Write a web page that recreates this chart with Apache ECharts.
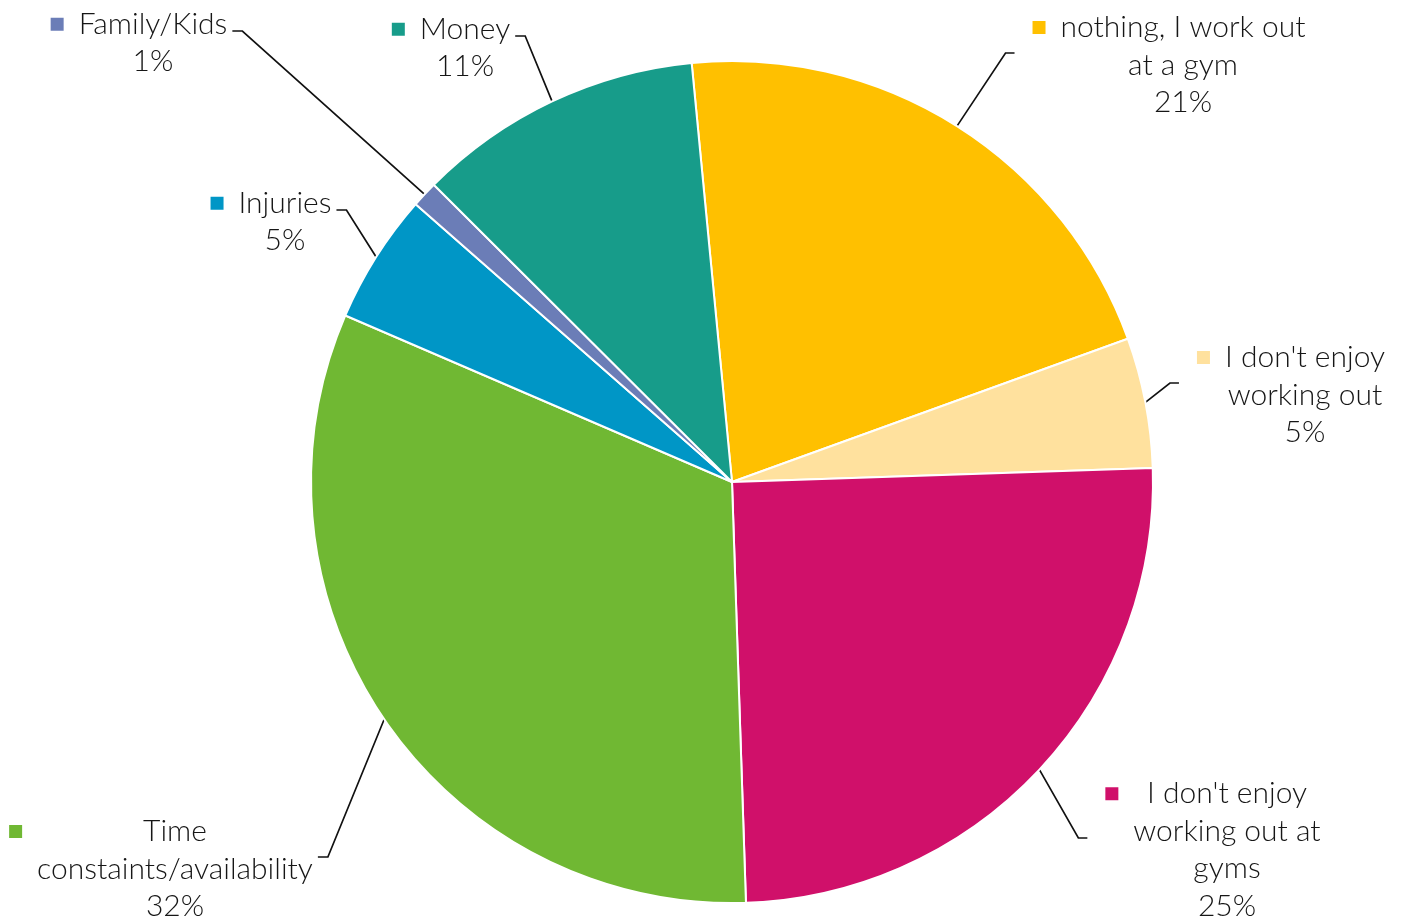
<!DOCTYPE html>
<html>
<head>
<meta charset="utf-8">
<script src="https://cdn.jsdelivr.net/npm/echarts@6/dist/echarts.min.js"></script>
<style>
  html, body { margin: 0; padding: 0; background: #fff; }
  #chart { width: 1413px; height: 921px; }
</style>
</head>
<body>
<div id="chart"></div>
<script>
// Reasons for not working out at a gym (share of responses, %), clockwise from the top
const categories = [
  'nothing, I work out\nat a gym',
  "I don't enjoy\nworking out",
  "I don't enjoy\nworking out at\ngyms",
  'Time\nconstaints/availability',
  'Injuries',
  'Family/Kids',
  'Money'
];
const shares = [21, 5, 25, 32, 5, 1, 11];
const colors = ['#FFC000', '#FFE19E', '#D0106A', '#70B833', '#0096C6', '#6B7DB7', '#179C8A'];
// centre of each label box, in px
const labelAnchors = [[1169, 65], [1291, 395], [1213, 850], [161, 869], [271, 222], [139, 43], [451, 48]];

const FONT = 'Lato';
const FONT_SIZE = 30;
const LINE_H = 37.5;
const TEXT_COLOR = '#161616';

const rich = {
  t: { fontFamily: FONT, fontSize: FONT_SIZE, fontWeight: 300, lineHeight: LINE_H, color: TEXT_COLOR, align: 'center' },
  gap: { width: 15, height: 13, align: 'left' },
  pad: { width: 28, height: 13, align: 'left' }
};
colors.forEach(function (c, i) {
  rich['k' + i] = { width: 13, height: 13, backgroundColor: c, align: 'left' };
});

function labelText(params) {
  const lines = categories[params.dataIndex].split('\n').concat([params.value + '%']);
  return lines.map(function (s, j) {
    return (j === 0 ? '{k' + params.dataIndex + '|}{gap|}' : '{pad|}') + '{t|' + s + '}';
  }).join('\n');
}

const chart = echarts.init(document.getElementById('chart'), null, { renderer: 'canvas' });
chart.setOption({
  backgroundColor: '#ffffff',
  animation: false,
  color: colors,
  series: [{
    type: 'pie',
    center: [732, 482],
    radius: 421,
    startAngle: 95.5,
    clockwise: true,
    avoidLabelOverlap: false,
    emphasis: { disabled: true },
    itemStyle: { borderColor: '#ffffff', borderWidth: 2 },
    label: {
      show: true,
      position: 'outside',
      formatter: labelText,
      rich: rich
    },
    labelLine: {
      show: true,
      smooth: false,
      length: 20,
      length2: 10,
      lineStyle: { color: '#111', width: 1.7 }
    },
    labelLayout: function (params) {
      const i = params.dataIndex;
      const x = labelAnchors[i][0], y = labelAnchors[i][1];
      const w = params.labelRect.width;
      const p0 = params.labelLinePoints[0];
      const rightSide = x > p0[0];
      const ty = y - 12;
      let end, elbow;
      if (rightSide) {
        end = x - w / 2 - 18;
        elbow = end - 9;
      } else {
        end = x + w / 2 + 5;
        elbow = end + 10;
      }
      return {
        x: x,
        y: y,
        align: 'center',
        verticalAlign: 'middle',
        labelLinePoints: [p0, [elbow, ty], [end, ty]]
      };
    },
    data: categories.map(function (name, i) {
      return { name: name, value: shares[i] };
    })
  }]
});
</script>
</body>
</html>
